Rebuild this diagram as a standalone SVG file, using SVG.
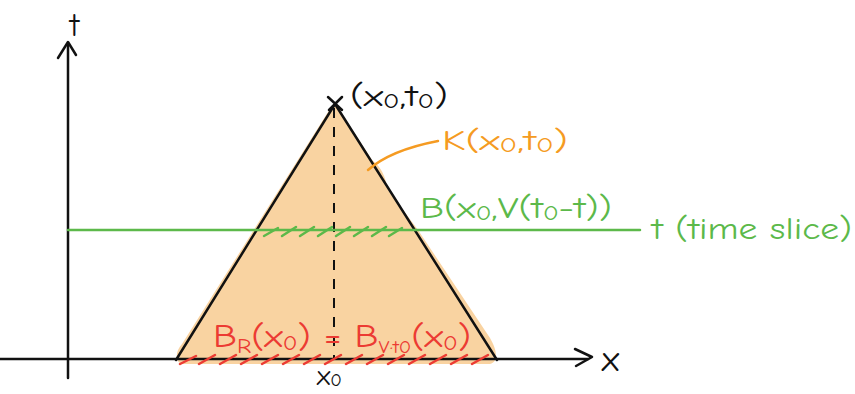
<svg xmlns="http://www.w3.org/2000/svg" width="855" height="394" viewBox="0 0 855 394">
<style>
text{font-family:"Comic Neue","DejaVu Sans","Noto Sans",sans-serif;}
.blk{fill:#111;}
.ax{stroke:#111;stroke-width:2.5;fill:none;stroke-linecap:round;stroke-linejoin:round;}
.grn{stroke:#5cb94a;stroke-width:2.5;fill:none;stroke-linecap:round;}
.red{stroke:#ec3b33;stroke-width:2.5;fill:none;stroke-linecap:round;}
.org{stroke:#f59b22;stroke-width:2.5;fill:none;stroke-linecap:round;}
</style>
<rect width="855" height="394" fill="#fff"/>
<g id="cone">
<path d="M328,112 C332,106 338,104 342,114 L372,160 C382,168 385,176 388,190 L418,230 L490,338 C497,350 499,362 490,364 L182,364 C174,362 176,350 182,344 Z" fill="#f9d3a1"/>
<path class="ax" d="M176,360 L335,104 L497,360"/>
<path d="M334,108 L334,360" stroke="#111" stroke-width="2" stroke-dasharray="10,9"/>
</g>
<g id="axes">
<path class="ax" d="M68,378 L68,44"/>
<path class="ax" d="M58,58 L68,42 L76,55"/>
<path class="ax" d="M0,359 L588,359"/>
<path class="ax" d="M575,349 L592,357 L576,366"/>
<text x="70" y="36" font-size="32" class="blk">t</text>
<text x="602" y="371" font-size="36" class="blk">x</text>
</g>
<g id="apex">
<path class="ax" d="M328,97 L342,110 M342,97 L329,110"/>
<text x="350" y="106" font-size="30" class="blk" textLength="98" lengthAdjust="spacingAndGlyphs">(x<tspan font-size="20" dy="2">0</tspan><tspan dy="-2">,t</tspan><tspan font-size="20" dy="2">0</tspan><tspan dy="-2">)</tspan></text>
</g>
<g id="label-K">
<text x="442" y="150" font-size="29" fill="#f59b22" textLength="126" lengthAdjust="spacingAndGlyphs">K(x<tspan font-size="20" dy="2">0</tspan><tspan dy="-2">,t</tspan><tspan font-size="20" dy="2">0</tspan><tspan dy="-2">)</tspan></text>
</g>
<g id="slice">
<path class="grn" d="M68,230 L640,230"/>
<text x="420" y="218" font-size="30" fill="#5cb94a" textLength="192" lengthAdjust="spacingAndGlyphs">B(x<tspan font-size="20" dy="2">0</tspan><tspan dy="-2">,V(t</tspan><tspan font-size="20" dy="2">0</tspan><tspan dy="-2">-t))</tspan></text>
<text x="652" y="239" font-size="31" fill="#5cb94a" textLength="200" lengthAdjust="spacingAndGlyphs">t (time slice)</text>
<path class="grn" d="M264,236 L278,228 M282,236 L296,227 M300,236 L314,227 M318,236 L332,227 M336,236 L350,227 M354,236 L368,227 M372,236 L386,227 M389,236 L402,228"/>
</g>
<g id="base">
<text x="213" y="347" font-size="32" fill="#ec3b33" textLength="258" lengthAdjust="spacingAndGlyphs">B<tspan font-size="20" dy="6">R</tspan><tspan dy="-6">(x</tspan><tspan font-size="20" dy="3">0</tspan><tspan dy="-3">) = B</tspan><tspan font-size="17" dy="6">V·t0</tspan><tspan dy="-6">(x</tspan><tspan font-size="20" dy="3">0</tspan><tspan dy="-3">)</tspan></text>
<path class="red" d="M180,364 L196,356 M199,364 L215,355 M220,364 L236,355 M241,364 L257,355 M262,364 L278,355 M283,364 L299,355 M304,364 L320,355 M325,364 L341,355 M346,364 L362,355 M367,364 L383,355 M388,364 L404,355 M409,364 L425,355 M430,364 L446,355 M451,364 L467,355 M472,364 L488,355"/>
<text x="317" y="385" font-size="28" class="blk">x<tspan font-size="19" dy="1">0</tspan></text>
</g>
<g id="connectors">
<path class="org" d="M368,170 C385,155 412,146 438,141"/>
</g>
</svg>
